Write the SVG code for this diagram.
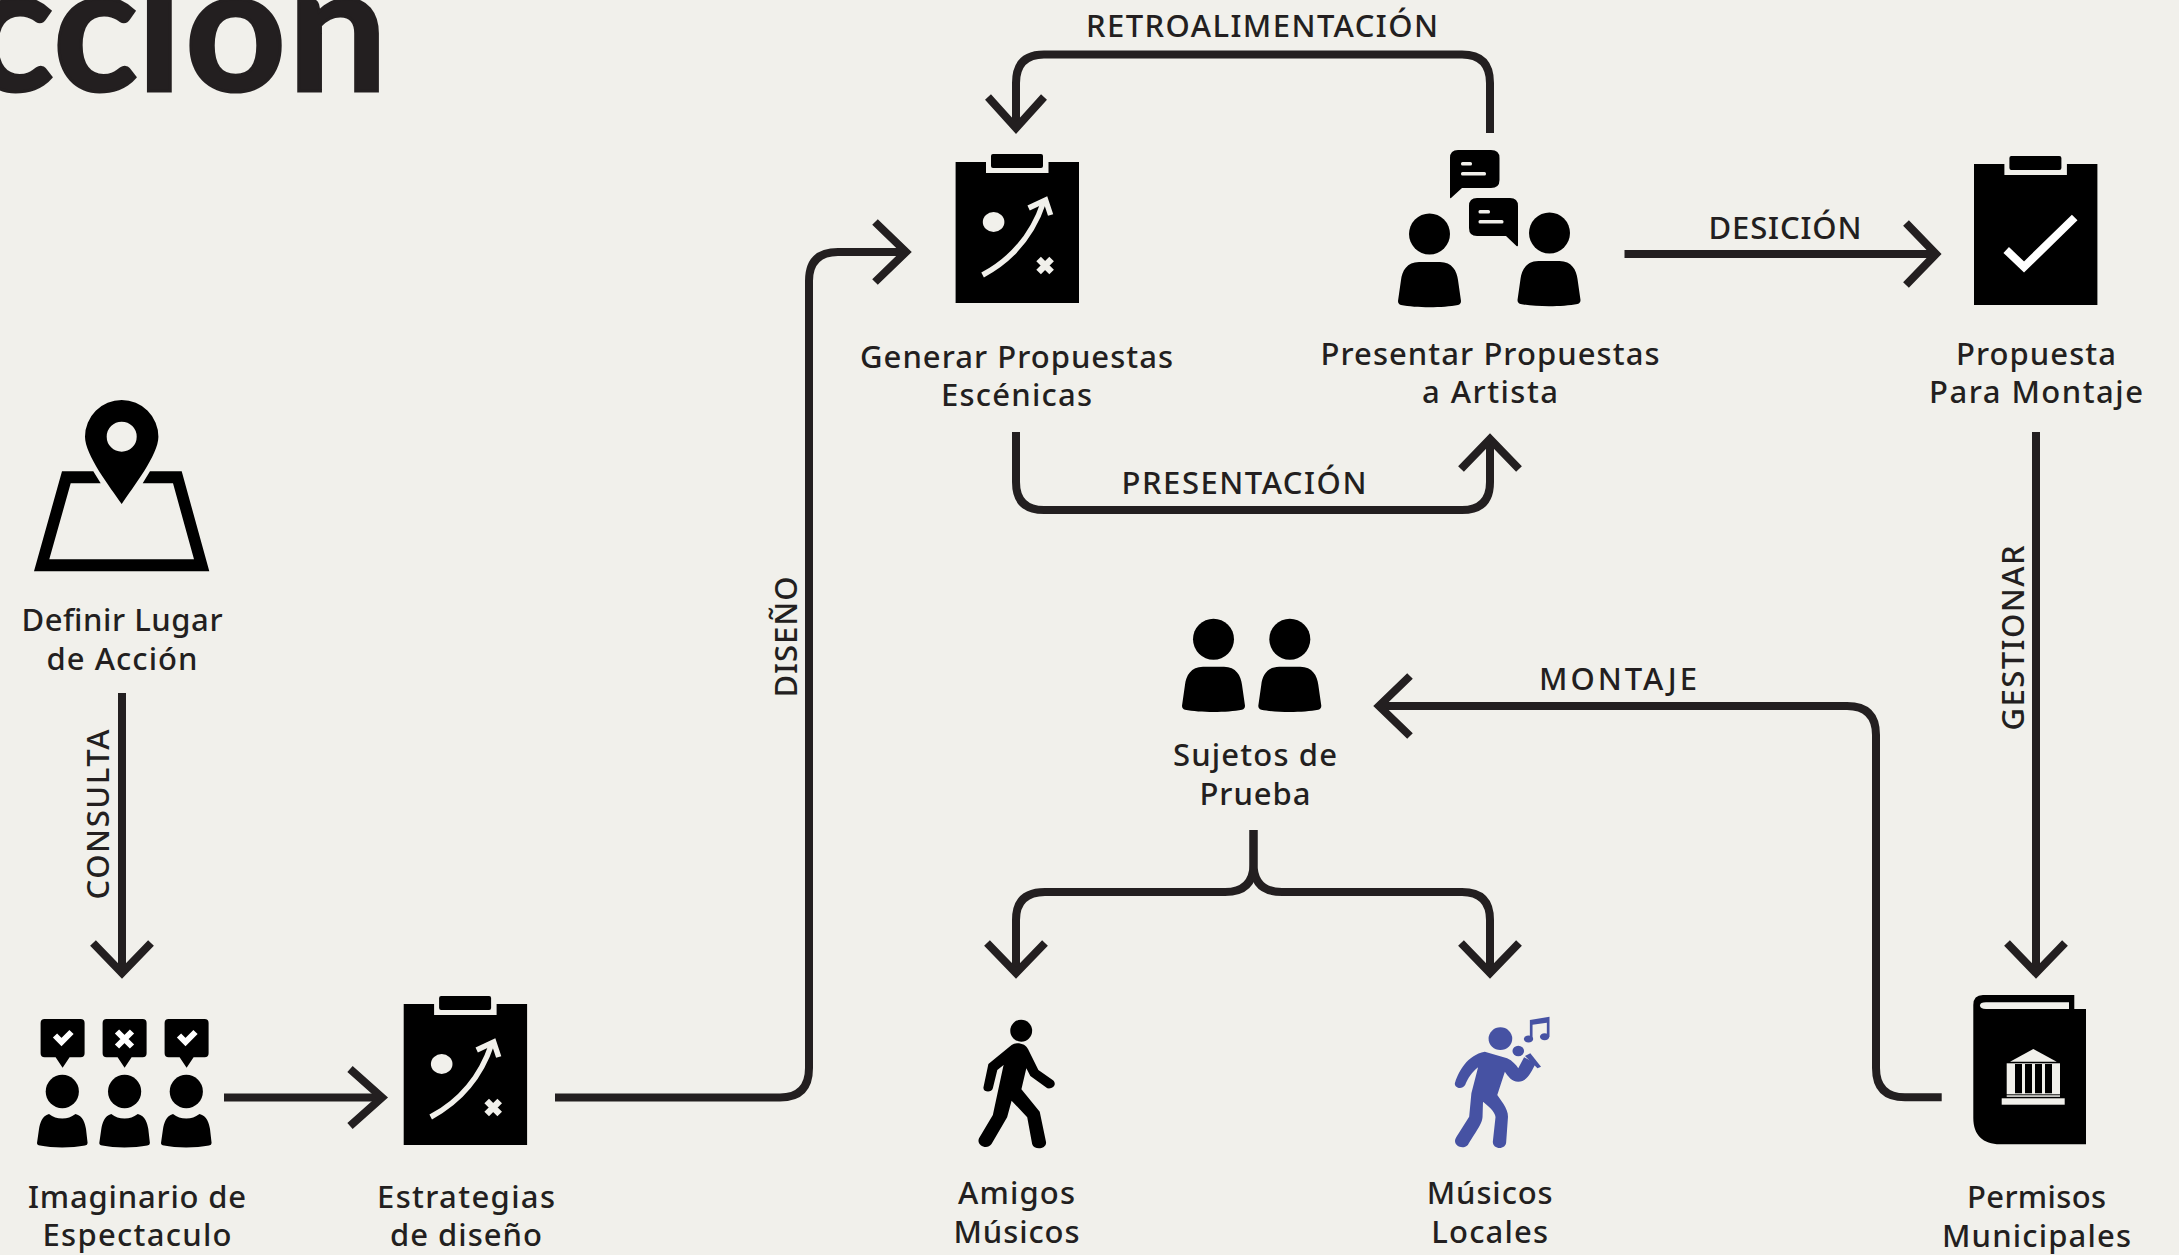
<svg xmlns="http://www.w3.org/2000/svg" xmlns:xlink="http://www.w3.org/1999/xlink" width="2179" height="1255" viewBox="0 0 2179 1255">
<style>
.bg{fill:#f1f0eb}
.k{fill:#000}
.c{fill:none;stroke:#231f20;stroke-width:8;stroke-linejoin:round}
.h{fill:none;stroke:#231f20;stroke-width:8;stroke-linejoin:miter;stroke-miterlimit:10}
text{font-family:"Noto Sans","Open Sans","Liberation Sans",sans-serif;font-size:31px;font-weight:500;fill:#231f20;text-anchor:middle}
.m{fill:none;stroke:#f1f0eb;stroke-width:5.5}
.w{fill:none;stroke:#fff;stroke-width:6;stroke-linejoin:miter}
</style>
<defs>
<g id="board">
<rect class="k" x="0" y="8" width="123.4" height="141"/>
<rect class="bg" x="30.4" y="8" width="62.5" height="11"/>
<rect class="k" x="35.4" y="0" width="52" height="14" rx="2"/>
</g>
<g id="strategy">
<use xlink:href="#board" href="#board"/>
<ellipse class="bg" cx="38" cy="68" rx="10.8" ry="10"/>
<path class="m" d="M27 121C55 106 76 84 88 48"/>
<polyline class="m" points="73,54 90,46 95,61"/>
<path class="m" d="M83 105L96 118M96 105L83 118" style="stroke-width:6.5"/>
</g>
<g id="personL">
<circle class="k" cx="31.5" cy="-27.5" r="20.5"/>
<path class="k" d="M21 0H42C54 0 59 9 60 18L63 39Q63 42 60 43C45 46 18 46 3 43Q0 42 0 39L3 18C4 9 9 0 21 0Z"/>
</g>
<g id="personS">
<ellipse class="k" cx="25.3" cy="-21.5" rx="16.6" ry="16.7"/>
<path class="k" d="M12 1C16 4 20 5.500 25.300 5.500C30.600 5.500 34 4 38.500 1C46 3 48 10 49 16L50.600 30Q50.600 32 48 32.500C35 35 15 35 3 32.500Q0 32 0 30L2 16C3 10 5 3 12 1Z"/>
</g>
<path id="vote" class="k" d="M4 0H40Q44 0 44 4V34.300Q44 38.300 40 38.300H29L22 48.700L15 38.300H4Q0 38.300 0 34.300V4Q0 0 4 0Z"/>
</defs>
<rect class="bg" width="2179" height="1255"/>

<g id="title"><text x="-31 53 137 185 288" y="91" style="font-size:176px;font-weight:700;text-anchor:start;font-family:Lato,'Liberation Sans',Arial,sans-serif;stroke:#231f20;stroke-width:3">ccion</text></g>

<g id="connectors">
<path class="c" d="M122 693V970"/><polyline class="h" points="93,943 122,973 151,943"/>
<path class="c" d="M224 1097.500H380"/><polyline class="h" points="350,1069 382,1097.500 350,1126"/>
<path class="c" d="M555 1097.500H780Q809 1097.500 809 1068V281Q809 252 838 252H903"/><polyline class="h" points="875,222 906,252 875,282"/>
<path class="c" d="M1490 133V83Q1490 54.500 1462 54.500H1044Q1016 54.500 1016 83V126"/><polyline class="h" points="988,97 1016,128 1044,97"/>
<path class="c" d="M1016 432V482Q1016 510 1044 510H1462Q1490 510 1490 482V442"/><polyline class="h" points="1461,469 1490,439 1519,469"/>
<path class="c" d="M1624.500 254H1932"/><polyline class="h" points="1906,223 1936,254 1906,285"/>
<path class="c" d="M2036 432V970"/><polyline class="h" points="2007,943 2036,973 2065,943"/>
<path class="c" d="M1941.700 1097.300H1905Q1876 1097.300 1876 1068V735Q1876 706 1847 706H1384"/><polyline class="h" points="1410,676 1379,706 1410,736"/>
<path class="c" d="M1253.500 830V864Q1253.500 892 1225 892H1045Q1016 892 1016 920V970"/><polyline class="h" points="987,943 1016,973 1045,943"/>
<path class="c" d="M1253.500 830V864Q1253.500 892 1282 892H1462Q1490 892 1490 920V970"/><polyline class="h" points="1461,943 1490,973 1519,943"/>
</g>

<g id="connector-labels">
<text x="1262" y="37" textLength="352">RETROALIMENTACIÓN</text>
<text x="1785" y="239" textLength="153">DESICIÓN</text>
<text x="1244" y="494" textLength="245">PRESENTACIÓN</text>
<text x="1618" y="690" textLength="158">MONTAJE</text>
<text transform="translate(108.500 814.500) rotate(-90)" textLength="170">CONSULTA</text>
<text transform="translate(797 637) rotate(-90)" textLength="121">DISEÑO</text>
<text transform="translate(2024 638) rotate(-90)" textLength="185">GESTIONAR</text>
</g>

<g id="node-definir">
<path class="k" fill-rule="evenodd" d="M121.700 504C110 487 85 455 85 436.700A36.700 36.700 0 1 1 158.400 436.700C158.400 455 133 487 121.700 504ZM136.700 436.700A15 15 0 1 0 106.700 436.700A15 15 0 1 0 136.700 436.700Z"/>
<path class="k" d="M62 471.300H93.300L100.700 483.300H70.700L49.300 559.300H194L173 483.300H142.700L150 471.300H181.700L209.300 571.300H34Z"/>
<text x="122" y="631" textLength="201">Definir Lugar</text>
<text x="122" y="669.500" textLength="151">de Acción</text>
</g>

<g id="node-imaginario">
<use href="#vote" x="40.600" y="1019"/><use href="#vote" x="102.600" y="1019"/><use href="#vote" x="164.600" y="1019"/>
<polyline class="w" points="55,1035.500 61.500,1042 71.500,1032"/>
<path class="w" d="M117 1031.500L132 1046.500M132 1031.500L117 1046.500"/>
<polyline class="w" points="179,1035.500 185.500,1042 195.500,1032"/>
<use href="#personS" x="37" y="1113"/><use href="#personS" x="99.300" y="1113"/><use href="#personS" x="161" y="1113"/>
<text x="137" y="1208" textLength="218">Imaginario de</text>
<text x="137" y="1246" textLength="189">Espectaculo</text>
</g>

<g id="node-estrategias">
<use href="#strategy" x="403.700" y="996"/>
<text x="466" y="1208" textLength="178">Estrategias</text>
<text x="466" y="1246" textLength="152">de diseño</text>
</g>

<g id="node-generar">
<use href="#strategy" x="955.600" y="154"/>
<text x="1016.500" y="367.500" textLength="313">Generar Propuestas</text>
<text x="1016.500" y="405.500" textLength="151">Escénicas</text>
</g>

<g id="node-presentar">
<path class="k" d="M1458 150H1491Q1499.500 150 1499.500 158V180Q1499.500 188 1491 188H1462L1451 198Q1450 199 1450 197V158Q1450 150 1458 150Z"/>
<rect class="bg" x="1461" y="162" width="11" height="3.500" rx="1.500"/><rect class="bg" x="1461" y="172" width="25" height="3.500" rx="1.500"/>
<path class="k" d="M1477 198H1510Q1518 198 1518 206V245Q1518 247 1516.500 246L1506 236H1477Q1469 236 1469 228V206Q1469 198 1477 198Z"/>
<rect class="bg" x="1478.500" y="210" width="11.500" height="3.500" rx="1.500"/><rect class="bg" x="1478.500" y="220" width="25" height="3.500" rx="1.500"/>
<ellipse class="k" cx="1429.500" cy="234" rx="20.500" ry="20.500"/>
<ellipse class="k" cx="1549.500" cy="233" rx="20.500" ry="20.500"/>
<path class="k" d="M1419 262H1440C1452 262 1457 271 1458 280L1461 301Q1461 304 1458 305C1443 308 1416 308 1401 305Q1398 304 1398 301L1401 280C1402 271 1407 262 1419 262Z"/>
<path class="k" d="M1538.500 261H1559.500C1571.500 261 1576.500 270 1577.500 279L1580.500 300Q1580.500 303 1577.500 304C1562.500 307 1535.500 307 1520.500 304Q1517.500 303 1517.500 300L1520.500 279C1521.500 270 1526.500 261 1538.500 261Z"/>
<text x="1490" y="365" textLength="339">Presentar Propuestas</text>
<text x="1490" y="403" textLength="136">a Artista</text>
</g>

<g id="node-propuesta">
<use href="#board" x="1974" y="156"/>
<polyline points="2006.200,250 2024,267 2074.700,217.500" style="fill:none;stroke:#fff;stroke-width:8"/>
<text x="2036" y="365" textLength="160">Propuesta</text>
<text x="2036" y="403" textLength="214">Para Montaje</text>
</g>

<g id="node-sujetos">
<use href="#personL" x="1182" y="666.700"/><use href="#personL" x="1258.300" y="666.700"/>
<text x="1255" y="766" textLength="164">Sujetos de</text>
<text x="1255" y="805" textLength="111">Prueba</text>
</g>

<g id="node-permisos">
<path class="k" d="M1983 995H2074.300V1009H2086V1144.300H2000C1983 1144.300 1973.300 1135 1973.300 1118V1005Q1973.300 995 1983 995Z"/>
<path class="bg" d="M1986 1002.300H2069V1009H1986Q1980 1009 1980 1005.600Q1980 1002.300 1986 1002.300Z"/>
<polygon class="bg" points="2010,1061.700 2033.300,1049 2056.700,1061.700"/>
<rect class="bg" x="2006.700" y="1063.300" width="53.300" height="31"/>
<path class="k" d="M2015 1064H2022V1093.300H2015ZM2025 1064H2032V1093.300H2025ZM2035 1064H2042V1093.300H2035ZM2045 1064H2052V1093.300H2045Z"/>
<rect class="bg" x="2006.700" y="1095.300" width="53.300" height="1.500"/>
<rect class="bg" x="2001.700" y="1098.300" width="63" height="6.400"/>
<text x="2036.500" y="1208" textLength="139">Permisos</text>
<text x="2036.500" y="1247" textLength="189">Municipales</text>
</g>

<g id="node-amigos">
<g transform="translate(900 1000) scale(.4464 .3333)">
<ellipse class="k" cx="271.500" cy="92" rx="24.500" ry="33"/>
<path class="k" d="M262 130C275 130 283 137 287 148L310 210L342 240C352 250 345 268 330 265L292 228L283 205L272 268L313 335L327 425C330 448 300 452 296 432L285 352L250 302L240 352L205 432C195 452 170 435 177 415L208 345L232 195L218 210L208 265C205 280 185 277 187 262L198 192L250 135Q255 130 262 130Z"/>
</g>
<text x="1016.500" y="1203.500" textLength="117">Amigos</text>
<text x="1016.500" y="1242.500" textLength="126">Músicos</text>
</g>

<g id="node-musicos">
<g transform="translate(900 1000) scale(.4464 .3333)" fill="#4652a3">
<ellipse cx="1345" cy="116" rx="26.500" ry="34"/>
<path d="M1310 155L1360 175C1372 182 1380 195 1385 205L1398 172L1424 190C1415 215 1405 245 1385 245C1370 245 1362 228 1355 215L1338 285L1352 312C1358 325 1362 338 1362 350L1358 425C1358 450 1328 450 1328 425L1334 352C1334 340 1325 325 1306 305L1305 350C1304 370 1295 385 1272 435C1260 452 1235 435 1246 412L1275 350L1280 280L1295 202C1282 215 1272 235 1266 255C1258 272 1238 262 1244 245C1252 215 1270 165 1310 155Z"/>
<ellipse cx="1385" cy="153" rx="13" ry="16"/>
<path d="M1400 168L1412 160L1436 200L1428 205Z"/>
<circle cx="1408" cy="117" r="10.500"/><circle cx="1444" cy="110" r="10.500"/>
<path d="M1411 117V60L1455 50V110H1449V68L1417 74V117Z"/>
</g>
<text x="1489.700" y="1203.500" textLength="126">Músicos</text>
<text x="1489.700" y="1242.500" textLength="117">Locales</text>
</g>
</svg>
